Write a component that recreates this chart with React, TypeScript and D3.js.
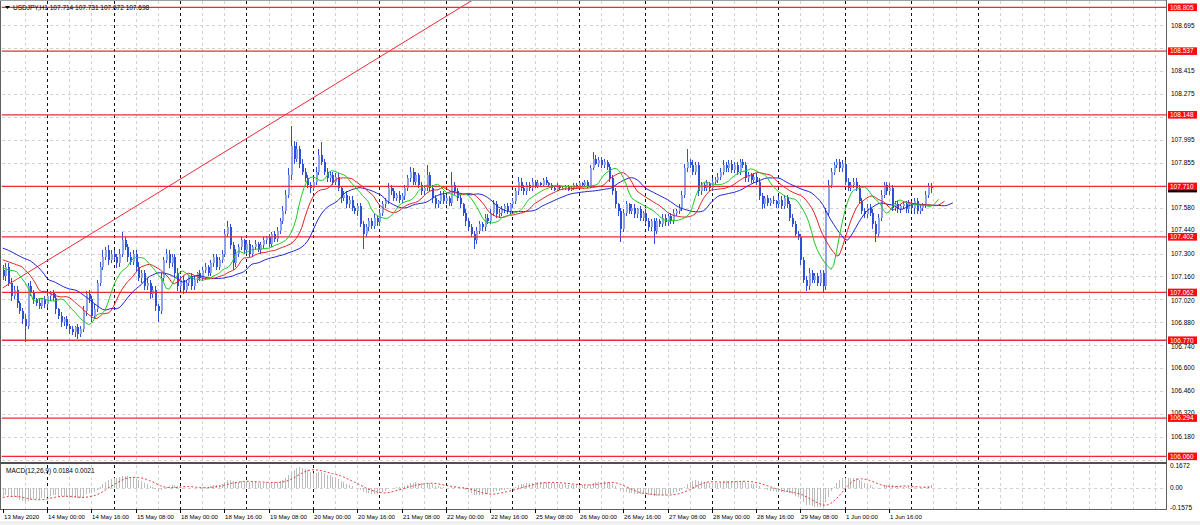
import { useEffect, useRef } from "react";
import * as d3 from "d3";

const symbolTitle = "USDJPY,H1";
const titleQuote = "107.714 107.731 107.672 107.698";
const macdTitle = "MACD(12,26,9) 0.0184 0.0021";

// H1 bars from 13 May 2020 08:00, each bar opens at the previous close
const firstOpen = 107.2;
const closes = [
  107.16, 107.22, 107.12, 107.04, 107.08, 107.0, 106.95, 106.9, 106.86, 107.1, 107.06, 107.02, 107.0, 106.98, 107.02, 106.99, 107.04, 107.06, 107.03, 106.96, 106.92, 106.88, 106.9, 106.86,
  106.84, 106.82, 106.85, 106.81, 106.84, 106.95, 107.05, 107.02, 106.92, 106.96, 107.12, 107.22, 107.28, 107.32, 107.26, 107.3, 107.28, 107.24, 107.3, 107.38, 107.34, 107.28, 107.25, 107.3,
  107.22, 107.15, 107.18, 107.1, 107.12, 107.05, 107.08, 106.98, 106.95, 107.15, 107.26, 107.3, 107.24, 107.28, 107.18, 107.1, 107.14, 107.08, 107.12, 107.16, 107.1, 107.14, 107.18, 107.15,
  107.2, 107.22, 107.18, 107.24, 107.28, 107.22, 107.26, 107.3, 107.42, 107.46, 107.35, 107.24, 107.3, 107.34, 107.38, 107.32, 107.36, 107.3, 107.34, 107.36, 107.32, 107.35, 107.38, 107.4,
  107.36, 107.42, 107.39, 107.44, 107.5, 107.56, 107.66, 107.78, 107.96, 107.88, 107.94, 107.85, 107.8, 107.76, 107.72, 107.7, 107.74, 107.8, 107.9, 107.86, 107.8, 107.76, 107.78, 107.74,
  107.77, 107.7, 107.64, 107.66, 107.6, 107.63, 107.58, 107.56, 107.59, 107.48, 107.42, 107.46, 107.5, 107.47, 107.52, 107.49, 107.55, 107.6, 107.62, 107.7, 107.68, 107.64, 107.66, 107.63,
  107.65, 107.7, 107.76, 107.8, 107.74, 107.78, 107.72, 107.68, 107.7, 107.78, 107.7, 107.64, 107.6, 107.62, 107.66, 107.62, 107.64, 107.61, 107.72, 107.68, 107.64, 107.6, 107.55, 107.5,
  107.46, 107.42, 107.38, 107.44, 107.48, 107.46, 107.52, 107.5, 107.55, 107.6, 107.54, 107.55, 107.57, 107.59, 107.56, 107.6, 107.62, 107.68, 107.74, 107.7, 107.68, 107.72, 107.7, 107.74,
  107.71, 107.73, 107.72, 107.75, 107.73, 107.72, 107.7, 107.69, 107.71, 107.7, 107.7, 107.71, 107.69, 107.7, 107.72, 107.71, 107.73, 107.72, 107.74, 107.71, 107.82, 107.88, 107.85, 107.87,
  107.84, 107.86, 107.83, 107.76, 107.68, 107.6, 107.56, 107.45, 107.55, 107.6, 107.56, 107.58, 107.54, 107.57, 107.52, 107.55, 107.5, 107.46, 107.5, 107.44, 107.5, 107.48, 107.52, 107.49,
  107.53, 107.5, 107.55, 107.56, 107.58, 107.66, 107.82, 107.86, 107.84, 107.8, 107.84, 107.68, 107.72, 107.7, 107.73, 107.7, 107.74, 107.75, 107.77, 107.8, 107.84, 107.82, 107.85, 107.81,
  107.84, 107.8, 107.86, 107.84, 107.76, 107.78, 107.75, 107.77, 107.74, 107.65, 107.6, 107.64, 107.61, 107.63, 107.62, 107.6, 107.63, 107.59, 107.64, 107.6, 107.52, 107.48, 107.42, 107.4,
  107.26, 107.14, 107.1, 107.18, 107.14, 107.16, 107.12, 107.18, 107.1, 107.55, 107.72, 107.8, 107.84, 107.86, 107.82, 107.85, 107.74, 107.7, 107.72, 107.74, 107.7, 107.62, 107.56, 107.54,
  107.58, 107.55, 107.48, 107.42, 107.52, 107.66, 107.72, 107.68, 107.7, 107.58, 107.6, 107.57, 107.59, 107.6, 107.57, 107.61, 107.58, 107.62, 107.56, 107.58, 107.6, 107.66, 107.714, 107.698,
];
// wick lengths in pips (0.01) above / below the body
const wickHigh = [
  3, 2, 2, 3, 2, 2, 1, 2, 3, 2, 3, 2, 1, 2, 1, 2, 2, 1, 2, 2, 1, 2, 1, 2,
  1, 2, 1, 2, 2, 3, 2, 3, 2, 3, 2, 3, 4, 2, 3, 2, 2, 2, 3, 5, 2, 2, 3, 2,
  2, 3, 2, 2, 3, 2, 2, 2, 1, 3, 2, 3, 2, 2, 2, 3, 2, 2, 2, 1, 2, 2, 1, 2,
  2, 2, 1, 2, 2, 2, 2, 2, 3, 4, 2, 2, 3, 2, 2, 1, 2, 2, 1, 2, 1, 2, 2, 1,
  2, 1, 2, 2, 2, 3, 3, 4, 12, 3, 4, 2, 3, 2, 2, 2, 3, 3, 4, 8, 2, 2, 2, 2,
  2, 2, 1, 2, 2, 2, 2, 1, 2, 2, 2, 2, 2, 2, 2, 1, 2, 2, 2, 3, 2, 2, 1, 2,
  2, 2, 2, 3, 2, 2, 1, 2, 2, 6, 2, 2, 2, 1, 2, 2, 2, 1, 8, 2, 2, 2, 1, 2,
  2, 2, 2, 2, 2, 1, 2, 2, 2, 3, 2, 2, 2, 1, 2, 1, 2, 2, 3, 2, 2, 2, 2, 2,
  1, 2, 1, 1, 2, 1, 1, 1, 2, 1, 1, 1, 1, 1, 1, 1, 1, 1, 1, 1, 2, 4, 2, 2,
  2, 2, 1, 2, 2, 2, 1, 2, 2, 2, 1, 2, 2, 1, 2, 1, 2, 2, 1, 2, 2, 1, 2, 2,
  1, 2, 2, 1, 2, 2, 3, 8, 2, 3, 2, 2, 2, 1, 2, 1, 2, 2, 2, 2, 3, 2, 2, 2,
  2, 2, 2, 2, 2, 2, 1, 2, 2, 2, 2, 1, 2, 1, 2, 1, 2, 2, 2, 2, 2, 2, 2, 2,
  2, 2, 2, 3, 2, 2, 2, 2, 2, 3, 3, 2, 2, 2, 2, 2, 2, 2, 2, 2, 2, 2, 2, 2,
  2, 2, 2, 2, 2, 3, 2, 2, 3, 2, 2, 2, 1, 2, 2, 2, 1, 2, 2, 2, 1, 2, 2, 1.7,
];
const wickLow = [
  2, 3, 2, 3, 2, 3, 2, 3, 10, 2, 2, 3, 2, 2, 2, 2, 2, 3, 2, 3, 2, 3, 2, 2,
  3, 2, 3, 3, 2, 2, 3, 2, 4, 2, 2, 2, 2, 2, 3, 2, 2, 3, 2, 2, 2, 3, 2, 2,
  3, 2, 3, 2, 2, 3, 2, 3, 7, 2, 2, 2, 3, 2, 3, 3, 2, 3, 2, 2, 2, 2, 2, 2,
  2, 2, 2, 2, 2, 2, 2, 2, 2, 2, 2, 4, 2, 2, 2, 2, 2, 2, 2, 2, 1, 2, 2, 2,
  2, 2, 2, 2, 2, 2, 2, 2, 3, 3, 2, 3, 2, 2, 2, 3, 2, 2, 2, 2, 2, 2, 2, 2,
  2, 2, 3, 2, 2, 2, 2, 2, 3, 2, 9, 2, 2, 2, 2, 2, 2, 2, 2, 2, 2, 2, 2, 2,
  2, 2, 2, 2, 2, 2, 2, 2, 2, 2, 2, 3, 2, 2, 2, 2, 2, 2, 2, 2, 2, 2, 2, 3,
  2, 2, 5, 2, 2, 2, 2, 2, 2, 2, 2, 2, 2, 2, 2, 2, 2, 2, 2, 2, 2, 2, 2, 2,
  1, 1, 1, 1, 1, 1, 1, 1, 1, 1, 1, 1, 1, 1, 1, 1, 1, 1, 1, 1, 1, 1, 1, 2,
  2, 2, 2, 2, 2, 2, 3, 8, 2, 2, 2, 2, 2, 2, 2, 2, 2, 2, 2, 8, 2, 2, 2, 2,
  2, 2, 2, 2, 2, 2, 2, 2, 2, 2, 2, 3, 2, 2, 2, 2, 2, 2, 2, 2, 2, 2, 2, 2,
  2, 2, 2, 2, 2, 2, 2, 2, 2, 2, 3, 2, 2, 2, 2, 2, 2, 2, 2, 2, 2, 2, 2, 2,
  3, 2, 3, 2, 2, 2, 2, 2, 4, 2, 2, 2, 2, 2, 2, 2, 2, 2, 2, 2, 2, 2, 2, 2,
  2, 2, 3, 5, 2, 2, 2, 2, 2, 2, 2, 2, 2, 2, 2, 2, 2, 4, 2, 2, 2, 2, 2, 2.6,
];

const timeLabels = [
  "13 May 2020", "14 May 00:00", "14 May 16:00", "15 May 08:00", "18 May 00:00", "18 May 16:00", "19 May 08:00",
  "20 May 00:00", "20 May 16:00", "21 May 08:00", "22 May 00:00", "22 May 16:00", "25 May 08:00", "26 May 00:00",
  "26 May 16:00", "27 May 08:00", "28 May 00:00", "28 May 16:00", "29 May 08:00", "1 Jun 00:00", "1 Jun 16:00",
];
const timeLabelBars = [0, 16, 32, 48, 64, 80, 96, 112, 128, 144, 160, 176, 192, 208, 224, 240, 256, 272, 288, 304, 320];
const dayStartBars = [16, 40, 64, 88, 112, 136, 160, 184, 208, 232, 256, 280, 304, 328, 352];

const priceTicks = [
  "108.695", "108.555", "108.415", "108.275", "108.135", "107.995", "107.855", "107.715", "107.580", "107.440",
  "107.300", "107.160", "107.020", "106.880", "106.740", "106.600", "106.460", "106.320", "106.180", "106.040",
];
const levelLines = [108.805, 108.537, 108.148, 107.71, 107.402, 107.062, 106.77, 106.294, 106.06];
const trendFrom = [0, 107.09];
const trendTo = [100, 108.127];
const bidPrice = 107.698;

// indicator values of the bars before the first visible one
const jawLead = [107.333, 107.327, 107.32, 107.312, 107.303, 107.294, 107.285, 107.276];
const teethLead = [107.261, 107.256, 107.25, 107.244, 107.238];
const lipsLead = [107.212, 107.206, 107.2];
const macdLead = [-0.09, -0.088, -0.085, -0.08, -0.076, -0.071, -0.066, -0.06];
const emaFastSeed = 107.245;
const emaSlowSeed = 107.305;
const macdTicks = ["0.1672", "0.00", "-0.1575"];

function MetaChart() {
  const ref = useRef<SVGSVGElement>(null);

  useEffect(() => {
    if (!ref.current) return;
    const width = 1200;
    const height = 525;
    const plotRight = 1166.5;
    const mainTop = 1;
    const mainBottom = 461;
    const macdTop = 465;
    const macdBottom = 509;
    const font = "'Liberation Sans', Arial, sans-serif";
    const gridColor = "#d2d2d2";

    const svg = d3.select(ref.current);
    svg.selectAll("*").remove();
    svg.attr("width", width).attr("height", height).style("display", "block");

    const x = d3.scaleLinear().domain([0, 420]).range([2.7, 2.7 + 420 * 2.77]);
    const y = d3.scaleLinear().domain([106.0318, 108.8435]).range([mainBottom, mainTop]);
    const ym = d3.scaleLinear().domain([-0.1575, 0.1672]).range([508, 466]);
    const px = (v: number) => Math.round(v) + 0.5;

    const bars = closes.map((c, i) => {
      const o = i === 0 ? firstOpen : closes[i - 1];
      return {
        i,
        o,
        c,
        h: Math.max(o, c) + wickHigh[i] / 100,
        l: Math.min(o, c) - wickLow[i] / 100,
      };
    });

    // Alligator: SMMA of median price, shifted forward
    const median = bars.map((b) => (b.h + b.l) / 2);
    const smma = (period: number, seed: number) => {
      let prev = seed;
      return median.map((m) => (prev = (prev * (period - 1) + m) / period));
    };
    const jaw = [...jawLead, ...smma(13, jawLead[jawLead.length - 1])];
    const teeth = [...teethLead, ...smma(8, teethLead[teethLead.length - 1])];
    const lips = [...lipsLead, ...smma(5, lipsLead[lipsLead.length - 1])];

    // MACD main + SMA signal
    let ef = emaFastSeed;
    let es = emaSlowSeed;
    const macd = closes.map((c) => {
      ef = (c * 2) / 13 + (ef * 11) / 13;
      es = (c * 2) / 27 + (es * 25) / 27;
      return ef - es;
    });
    const macdAll = [...macdLead, ...macd];
    const signal = macd.map((_, i) => d3.mean(macdAll.slice(i, i + 9)) ?? 0);

    svg.append("rect").attr("width", width).attr("height", height).attr("fill", "#fff");
    svg.append("rect").attr("y", 521).attr("width", width).attr("height", 4).attr("fill", "#f0f0f0");

    const defs = svg.append("defs");
    defs.append("clipPath").attr("id", "main-clip").append("rect")
      .attr("x", 1.5).attr("y", mainTop).attr("width", plotRight - 1.5).attr("height", mainBottom - mainTop);
    defs.append("clipPath").attr("id", "macd-clip").append("rect")
      .attr("x", 1.5).attr("y", macdTop).attr("width", plotRight - 1.5).attr("height", macdBottom - macdTop);

    // grid: light dotted every 8 bars and price tick, black dashed day separators
    const grid = svg.append("g").attr("shape-rendering", "crispEdges");
    const gridLine = (x1: number, x2: number, y1: number, y2: number, color: string, dash: string) =>
      grid.append("line")
        .attr("x1", x1).attr("x2", x2).attr("y1", y1).attr("y2", y2)
        .attr("stroke", color).attr("stroke-width", 1).attr("stroke-dasharray", dash);
    priceTicks.forEach((t) => gridLine(1.5, plotRight, px(y(+t)), px(y(+t)), gridColor, "3,3"));
    gridLine(1.5, plotRight, px(ym(0)), px(ym(0)), gridColor, "3,3");
    d3.range(8, 421, 8)
      .filter((b) => !dayStartBars.includes(b))
      .forEach((b) => {
        gridLine(px(x(b)), px(x(b)), mainTop, mainBottom, gridColor, "3,3");
        gridLine(px(x(b)), px(x(b)), macdTop, macdBottom, gridColor, "3,3");
      });
    dayStartBars.forEach((b) => {
      gridLine(px(x(b)), px(x(b)), mainTop, mainBottom, "#111", "3,3");
      gridLine(px(x(b)), px(x(b)), macdTop, macdBottom, "#111", "3,3");
    });

    // candles
    const candles = svg.append("g").attr("clip-path", "url(#main-clip)").attr("shape-rendering", "crispEdges");
    bars.forEach((b) => {
      const cx = Math.round(x(b.i));
      candles.append("line")
        .attr("x1", cx + 0.5).attr("x2", cx + 0.5)
        .attr("y1", y(b.h)).attr("y2", y(b.l))
        .attr("stroke", "#2f4fd6");
      const top = y(Math.max(b.o, b.c));
      const bot = y(Math.min(b.o, b.c));
      candles.append("rect")
        .attr("x", cx - 0.5).attr("width", 2)
        .attr("y", top).attr("height", Math.max(1, bot - top))
        .attr("fill", b.c >= b.o ? "#8fa2ee" : "#2f4fd6");
    });

    // levels and trend line
    const objs = svg.append("g").attr("clip-path", "url(#main-clip)");
    levelLines.forEach((p) => {
      objs.append("line").attr("x1", 1.5).attr("x2", plotRight)
        .attr("y1", y(p)).attr("y2", y(p))
        .attr("stroke", "#ec2b36").attr("stroke-width", 1.3);
    });
    const slope = (trendTo[1] - trendFrom[1]) / (trendTo[0] - trendFrom[0]);
    objs.append("line")
      .attr("x1", x(trendFrom[0])).attr("y1", y(trendFrom[1]))
      .attr("x2", x(420)).attr("y2", y(trendFrom[1] + slope * (420 - trendFrom[0])))
      .attr("stroke", "#ec2b36").attr("stroke-width", 1);

    // Alligator lines
    const maLine = d3.line<number>().x((_, j) => x(j)).y((v) => y(v));
    const ma = svg.append("g").attr("clip-path", "url(#main-clip)").attr("fill", "none");
    ma.append("path").attr("d", maLine(jaw)).attr("stroke", "#2424d6").attr("stroke-width", 1);
    ma.append("path").attr("d", maLine(teeth)).attr("stroke", "#e02424").attr("stroke-width", 1);
    ma.append("path").attr("d", maLine(lips)).attr("stroke", "#22c822").attr("stroke-width", 1);

    // MACD panel
    const mg = svg.append("g").attr("clip-path", "url(#macd-clip)");
    macd.forEach((v, i) => {
      mg.append("line")
        .attr("x1", px(x(i))).attr("x2", px(x(i)))
        .attr("y1", ym(0)).attr("y2", ym(v))
        .attr("stroke", "#bcbcbc").attr("shape-rendering", "crispEdges");
    });
    mg.append("path")
      .attr("d", d3.line<number>().x((_, i) => x(i)).y((v) => ym(v))(signal))
      .attr("fill", "none").attr("stroke", "#e23a3a").attr("stroke-dasharray", "2,2").attr("stroke-width", 1);

    // frames
    const frame = svg.append("g").attr("stroke", "#606060").attr("shape-rendering", "crispEdges");
    frame.append("line").attr("x1", 0.5).attr("x2", 0.5).attr("y1", 0).attr("y2", macdBottom);
    frame.append("line").attr("x1", 0).attr("x2", plotRight).attr("y1", 0.5).attr("y2", 0.5).attr("stroke", "#a0a0a0");
    frame.append("line").attr("x1", plotRight).attr("x2", plotRight).attr("y1", 0).attr("y2", macdBottom + 0.5);
    frame.append("rect").attr("x", 0).attr("y", mainBottom + 1).attr("width", plotRight).attr("height", 2)
      .attr("fill", "#505050").attr("stroke", "none");
    frame.append("line").attr("x1", 0).attr("x2", plotRight).attr("y1", macdBottom + 0.5).attr("y2", macdBottom + 0.5);

    // price axis: tick labels that sit under an object tag are hidden by it
    const axis = svg.append("g").style("font-family", font).style("font-size", "6.5px");
    priceTicks
      .filter((t) => levelLines.every((p) => Math.abs(y(+t) - y(p)) > 3.6))
      .forEach((t) => {
        const ty = y(+t);
        const near = levelLines.find((p) => Math.abs(ty - y(p)) < 7);
        const shift = near === undefined ? 0 : ty > y(near) ? 1.2 : -1.2;
        axis.append("text").attr("x", 1171).attr("y", ty + shift).attr("dy", "0.35em").attr("fill", "#000").text(t);
      });
    axis.append("rect").attr("x", 1168).attr("y", y(bidPrice) - 4).attr("width", 29).attr("height", 8).attr("fill", "#000");
    levelLines.forEach((p) => {
      axis.append("rect").attr("x", 1168).attr("y", y(p) - 3.8).attr("width", 29).attr("height", 7.6).attr("fill", "#ff0a0a");
      axis.append("text").attr("x", 1170).attr("y", y(p)).attr("dy", "0.35em").attr("fill", "#fff").text(p.toFixed(3));
    });

    macdTicks.forEach((t) => {
      axis.append("text").attr("x", 1170).attr("y", ym(+t)).attr("dy", "0.35em").attr("fill", "#000").text(t);
    });

    // time axis
    const timeAxis = svg.append("g").style("font-family", font).style("font-size", "6.1px");
    timeLabels.forEach((t, k) => {
      const tx = px(x(timeLabelBars[k]));
      timeAxis.append("line").attr("x1", tx).attr("x2", tx).attr("y1", macdBottom).attr("y2", macdBottom + 4)
        .attr("stroke", "#000").attr("shape-rendering", "crispEdges");
      timeAxis.append("text").attr("x", tx + 0.5).attr("y", 519).attr("fill", "#000").text(t);
    });

    // titles
    svg.append("path").attr("d", "M5,6 L10,6 L7.5,9 Z").attr("fill", "#000");
    axis.append("text").attr("x", 13).attr("y", 10).attr("fill", "#000").text(`${symbolTitle}  ${titleQuote}`);
    axis.append("text").attr("x", 6).attr("y", 473).attr("fill", "#000").text(macdTitle);
  }, []);

  return <svg ref={ref} />;
}

export default function App() {
  return (
    <div style={{ position: "absolute", left: 0, top: 0 }}>
      <MetaChart />
    </div>
  );
}
